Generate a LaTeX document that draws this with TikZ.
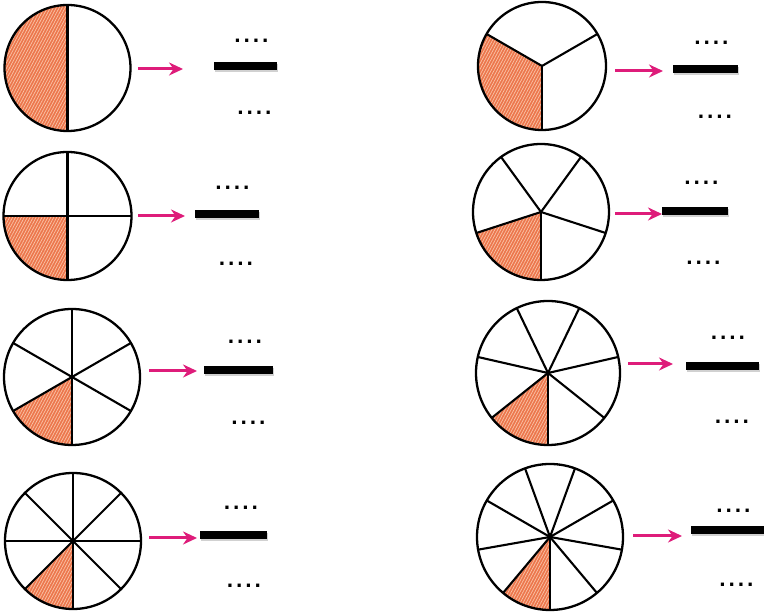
\documentclass[tikz,border=0pt]{standalone}
\usepackage{fontspec}
\newfontfamily\dotfont{DejaVu Sans}
\usetikzlibrary{arrows.meta,patterns.meta}
\definecolor{pieorange}{RGB}{236,118,76}
\definecolor{hatchlight}{RGB}{250,196,168}
\definecolor{arrowpink}{RGB}{222,28,122}
\tikzset{
  pienode/.style={circle,inner sep=0pt,outer sep=0pt},
  shadefill/.style={fill=pieorange},
  shadehatch/.style={pattern={Lines[angle=62,distance=2.6pt,line width=0.7pt]},pattern color=hatchlight},
  divline/.style={line width=2.1pt,black},
  rim/.style={line width=2.3pt,black},
  myarrow/.style={arrowpink,line width=3pt,-{Stealth[length=14pt,width=13pt]}},
  fracbar/.style={line width=8.5pt,black},
  barshadow/.style={line width=8pt,black!18},
  dotsnode/.style={inner sep=0pt,anchor=base,font=\dotfont\bfseries\fontsize{18}{18}\selectfont}
}
\newcommand\mydots{.\kern2.4pt.\kern2.4pt.\kern2.4pt.}
\newcommand\mypie[5]{%
  \node[pienode,minimum size={2*#4}] (#1) at (#2,#3) {};
  \pgfmathsetmacro\mysa{270-360/#5}
  \fill[shadefill] (#1.center) -- ++(\mysa:#4) arc[start angle=\mysa,end angle=270,radius=#4] -- cycle;
  \fill[shadehatch] (#1.center) -- ++(\mysa:#4) arc[start angle=\mysa,end angle=270,radius=#4] -- cycle;
  \foreach \k in {1,...,#5}{\draw[divline] (#1.center) -- ++({270+360*\k/#5}:#4);}
  \draw[rim] (#1.center) circle[radius=#4];
}
\begin{document}
\begin{tikzpicture}[x=1pt,y=1pt]
\useasboundingbox[fill=white] (0,0) rectangle (764,612);
% ---- pie 1 (halves)
\mypie{p1}{67.5}{544}{63}{2}
\coordinate (p1s) at (138,543); \coordinate (p1e) at (183,543);
\draw[myarrow] (p1s) -- (p1e);
\coordinate (p1bl) at (214,546); \coordinate (p1br) at (277,546);
\draw[barshadow] ([shift={(1,-2.5)}]p1bl) -- ([shift={(1,-2.5)}]p1br);
\draw[fracbar] (p1bl) -- (p1br);
\node[dotsnode] (p1t) at (251.5,569.2) {\mydots};
\node[dotsnode] (p1b) at (254.5,497.2) {\mydots};
% ---- pie 2 (thirds)
\mypie{p2}{542}{546}{64}{3}
\coordinate (p2s) at (615,541); \coordinate (p2e) at (663,541);
\draw[myarrow] (p2s) -- (p2e);
\coordinate (p2bl) at (673,543); \coordinate (p2br) at (738,543);
\draw[barshadow] ([shift={(1,-2.5)}]p2bl) -- ([shift={(1,-2.5)}]p2br);
\draw[fracbar] (p2bl) -- (p2br);
\node[dotsnode] (p2t) at (711.5,567.2) {\mydots};
\node[dotsnode] (p2b) at (715,493.2) {\mydots};
% ---- pie 3 (quarters)
\mypie{p3}{67.5}{396}{64}{4}
\coordinate (p3s) at (138,396); \coordinate (p3e) at (185,396);
\draw[myarrow] (p3s) -- (p3e);
\coordinate (p3bl) at (195,398); \coordinate (p3br) at (259,398);
\draw[barshadow] ([shift={(1,-2.5)}]p3bl) -- ([shift={(1,-2.5)}]p3br);
\draw[fracbar] (p3bl) -- (p3br);
\node[dotsnode] (p3t) at (232.5,422.2) {\mydots};
\node[dotsnode] (p3b) at (236,346.2) {\mydots};
% ---- pie 4 (fifths)
\mypie{p4}{541}{400}{68}{5}
\coordinate (p4s) at (615,398); \coordinate (p4e) at (662,398);
\draw[myarrow] (p4s) -- (p4e);
\coordinate (p4bl) at (662,401); \coordinate (p4br) at (728,401);
\draw[barshadow] ([shift={(1,-2.5)}]p4bl) -- ([shift={(1,-2.5)}]p4br);
\draw[fracbar] (p4bl) -- (p4br);
\node[dotsnode] (p4t) at (701.5,427.2) {\mydots};
\node[dotsnode] (p4b) at (703.5,347.2) {\mydots};
% ---- pie 5 (sixths)
\mypie{p5}{72}{235}{68}{6}
\coordinate (p5s) at (149,241); \coordinate (p5e) at (197,241);
\draw[myarrow] (p5s) -- (p5e);
\coordinate (p5bl) at (204,242); \coordinate (p5br) at (273,242);
\draw[barshadow] ([shift={(1,-2.5)}]p5bl) -- ([shift={(1,-2.5)}]p5br);
\draw[fracbar] (p5bl) -- (p5br);
\node[dotsnode] (p5t) at (245,268.2) {\mydots};
\node[dotsnode] (p5b) at (248.5,187.2) {\mydots};
% ---- pie 6 (sevenths)
\mypie{p6}{548}{239}{72}{7}
\coordinate (p6s) at (628,248); \coordinate (p6e) at (673,248);
\draw[myarrow] (p6s) -- (p6e);
\coordinate (p6bl) at (686,246); \coordinate (p6br) at (759,246);
\draw[barshadow] ([shift={(1,-2.5)}]p6bl) -- ([shift={(1,-2.5)}]p6br);
\draw[fracbar] (p6bl) -- (p6br);
\node[dotsnode] (p6t) at (728,272.2) {\mydots};
\node[dotsnode] (p6b) at (732,188.2) {\mydots};
% ---- pie 7 (eighths)
\mypie{p7}{73}{71}{68}{8}
\coordinate (p7s) at (149,74); \coordinate (p7e) at (197,74);
\draw[myarrow] (p7s) -- (p7e);
\coordinate (p7bl) at (200,77); \coordinate (p7br) at (267,77);
\draw[barshadow] ([shift={(1,-2.5)}]p7bl) -- ([shift={(1,-2.5)}]p7br);
\draw[fracbar] (p7bl) -- (p7br);
\node[dotsnode] (p7t) at (241,102.2) {\mydots};
\node[dotsnode] (p7b) at (244,24.2) {\mydots};
% ---- pie 8 (ninths)
\mypie{p8}{550}{75}{73}{9}
\coordinate (p8s) at (633,76); \coordinate (p8e) at (682,76);
\draw[myarrow] (p8s) -- (p8e);
\coordinate (p8bl) at (691,82); \coordinate (p8br) at (764,82);
\draw[barshadow] ([shift={(1,-2.5)}]p8bl) -- ([shift={(1,-2.5)}]p8br);
\draw[fracbar] (p8bl) -- (p8br);
\node[dotsnode] (p8t) at (733.5,99.2) {\mydots};
\node[dotsnode] (p8b) at (736.5,25.2) {\mydots};
\end{tikzpicture}
\end{document}
